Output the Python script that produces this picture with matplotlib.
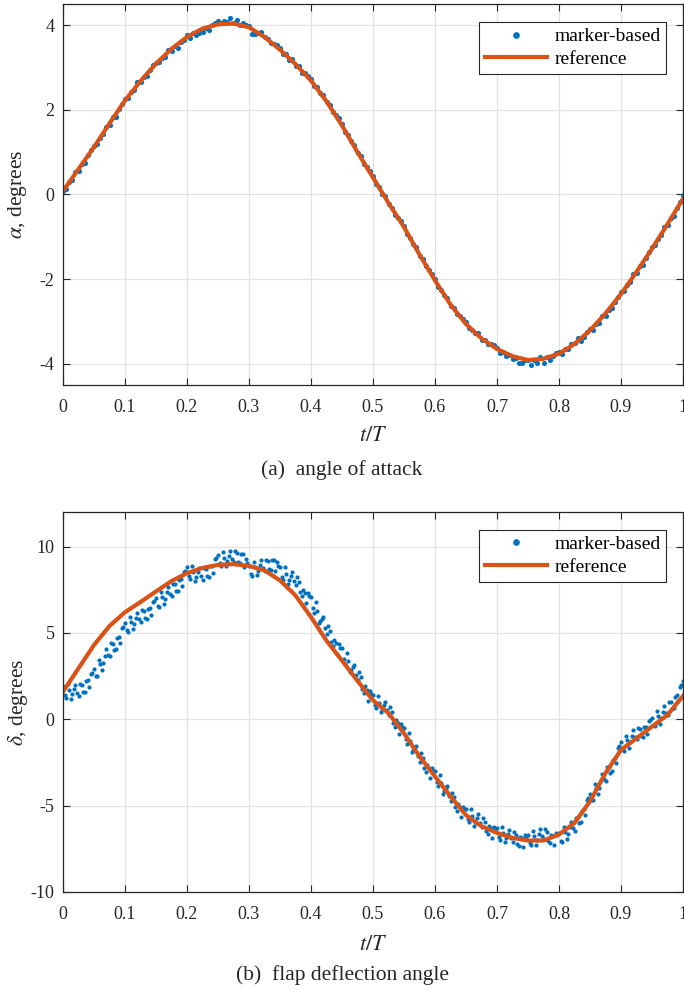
import numpy as np
import matplotlib
matplotlib.use("Agg")
import matplotlib.pyplot as plt
from matplotlib.lines import Line2D
from matplotlib.ticker import FuncFormatter

# Data
t_ref = np.linspace(0, 1, 41)          # reference sampled every 0.025 t/T
t_mark = np.linspace(0, 1, 201)        # marker samples every 0.005 t/T
t_mid = np.linspace(0.0025, 0.9975, 200)  # in-between marker samples (flap)

alpha_ref = [0.08, 0.60, 1.12, 1.68, 2.22, 2.68, 3.09, 3.44, 3.72, 3.92,
             4.02, 4.04, 3.95, 3.72, 3.42, 3.08, 2.69, 2.20, 1.63, 1.00,
             0.40, -0.20, -0.77, -1.42, -2.03, -2.60, -3.06, -3.40, -3.65, -3.82,
             -3.91, -3.88, -3.76, -3.53, -3.21, -2.81, -2.35, -1.83, -1.28, -0.70,
             -0.10]

alpha_mark = [0.09, 0.13, 0.29, 0.34, 0.54, 0.55, 0.73, 0.75, 0.94, 1.04,
              1.14, 1.20, 1.34, 1.44, 1.60, 1.63, 1.82, 1.83, 2.02, 2.13,
              2.26, 2.27, 2.42, 2.47, 2.65, 2.65, 2.78, 2.81, 2.93, 3.06,
              3.11, 3.14, 3.23, 3.25, 3.41, 3.39, 3.51, 3.47, 3.61, 3.66,
              3.76, 3.69, 3.81, 3.76, 3.81, 3.83, 3.94, 3.88, 4.00, 4.04,
              4.10, 4.04, 4.11, 4.07, 4.17, 4.05, 4.12, 4.01, 4.06, 4.01,
              3.97, 3.80, 3.79, 3.82, 3.83, 3.71, 3.68, 3.58, 3.56, 3.53,
              3.46, 3.32, 3.31, 3.18, 3.21, 3.04, 3.03, 2.87, 2.87, 2.79,
              2.74, 2.56, 2.53, 2.39, 2.35, 2.18, 2.12, 1.95, 1.88, 1.80,
              1.67, 1.48, 1.40, 1.26, 1.18, 0.99, 0.90, 0.72, 0.64, 0.56,
              0.44, 0.24, 0.18, 0.01, -0.03, -0.23, -0.31, -0.48, -0.56, -0.63,
              -0.74, -0.94, -1.02, -1.16, -1.25, -1.45, -1.53, -1.70, -1.79, -1.87,
              -1.99, -2.18, -2.25, -2.38, -2.44, -2.63, -2.68, -2.83, -2.87, -2.93,
              -3.02, -3.16, -3.19, -3.27, -3.28, -3.43, -3.44, -3.52, -3.54, -3.55,
              -3.62, -3.74, -3.73, -3.81, -3.78, -3.89, -3.86, -3.97, -3.97, -3.91,
              -3.91, -4.03, -3.91, -3.98, -3.84, -3.97, -3.85, -3.90, -3.81, -3.75,
              -3.72, -3.76, -3.66, -3.64, -3.53, -3.51, -3.40, -3.45, -3.36, -3.25,
              -3.17, -3.20, -3.06, -3.03, -2.87, -2.86, -2.72, -2.69, -2.55, -2.41,
              -2.31, -2.29, -2.13, -2.06, -1.88, -1.86, -1.69, -1.66, -1.49, -1.35,
              -1.24, -1.20, -1.04, -0.95, -0.77, -0.73, -0.56, -0.50, -0.32, -0.17,
              -0.01]

delta_ref = [1.60, 2.95, 4.30, 5.40, 6.20, 6.79, 7.40, 8.00, 8.46, 8.76,
             8.94, 8.98, 8.88, 8.62, 8.04, 7.17, 5.92, 4.55, 3.40, 2.22,
             1.10, 0.35, -0.81, -2.15, -3.31, -4.46, -5.55, -6.19, -6.58, -6.87,
             -7.02, -7.02, -6.67, -6.00, -4.75, -3.12, -1.77, -1.10, -0.42, 0.25,
             1.35]

delta_mark = [1.90, 1.25, 1.70, 1.45, 2.00, 1.35, 2.00, 1.60, 2.25, 2.65,
              2.90, 2.51, 3.22, 3.23, 4.04, 3.65, 4.38, 4.06, 4.79, 5.27,
              5.60, 5.07, 5.64, 5.51, 6.18, 5.65, 6.26, 5.82, 6.43, 6.79,
              7.00, 6.49, 7.08, 6.97, 7.66, 7.15, 7.82, 7.44, 8.11, 8.53,
              8.80, 8.11, 8.52, 8.23, 8.74, 8.05, 8.68, 8.26, 8.89, 9.27,
              9.50, 8.88, 9.36, 9.14, 9.72, 9.10, 9.60, 9.05, 9.55, 9.30,
              8.90, 8.30, 8.80, 8.60, 9.20, 8.60, 9.15, 8.65, 9.25, 9.10,
              8.80, 8.05, 8.40, 8.05, 8.50, 7.75, 7.96, 7.12, 7.33, 7.29,
              7.10, 6.13, 6.26, 5.69, 5.92, 4.95, 5.12, 4.24, 4.41, 4.33,
              4.10, 3.19, 3.38, 2.87, 3.16, 2.25, 2.42, 1.54, 1.71, 1.63,
              1.40, 0.63, 0.96, 0.59, 1.02, 0.25, 0.44, -0.42, -0.23, -0.29,
              -0.50, -1.43, -1.26, -1.79, -1.52, -2.45, -2.22, -3.04, -2.81, -2.83,
              -3.00, -3.89, -3.68, -4.17, -3.86, -4.75, -4.50, -5.30, -5.05, -5.05,
              -5.20, -5.95, -5.60, -5.95, -5.50, -6.25, -5.92, -6.64, -6.31, -6.23,
              -6.30, -7.00, -6.60, -6.90, -6.40, -7.10, -6.68, -7.31, -6.89, -6.72,
              -6.70, -7.29, -6.78, -6.97, -6.36, -6.95, -6.54, -7.18, -6.77, -6.61,
              -6.60, -7.11, -6.52, -6.63, -5.94, -6.45, -5.68, -5.96, -5.19, -4.67,
              -4.30, -4.69, -3.98, -3.97, -3.16, -3.55, -2.76, -3.02, -2.23, -1.69,
              -1.30, -1.81, -1.22, -1.33, -0.64, -1.15, -0.56, -1.02, -0.43, -0.09,
              0.10, -0.41, 0.18, 0.07, 0.76, 0.25, 0.98, 0.66, 1.39, 1.87,
              2.20]

delta_mark_mid = [1.40, 2.05, 1.20, 1.75, 1.55, 2.05, 1.60, 2.20, 1.85, 2.70,
                  2.53, 3.44, 2.85, 3.66, 3.72, 4.39, 4.02, 4.70, 4.43, 5.36,
                  5.16, 5.93, 5.20, 5.87, 5.79, 6.33, 5.84, 6.40, 6.01, 6.82,
                  6.57, 7.36, 6.65, 7.34, 7.28, 7.86, 7.43, 8.05, 7.72, 8.59,
                  8.28, 8.89, 8.00, 8.51, 8.27, 8.74, 8.27, 8.85, 8.48, 9.31,
                  9.02, 9.70, 8.88, 9.46, 9.29, 9.73, 9.13, 9.58, 8.83, 9.03,
                  8.43, 9.13, 8.33, 8.93, 8.78, 9.25, 8.70, 9.23, 8.58, 8.88,
                  8.25, 8.80, 7.85, 8.30, 8.00, 8.23, 7.34, 7.50, 6.71, 7.12,
                  6.44, 6.77, 5.60, 5.83, 5.31, 5.41, 4.48, 4.60, 3.77, 4.14,
                  3.47, 3.86, 2.75, 3.04, 2.58, 2.71, 1.78, 1.90, 1.07, 1.44,
                  0.84, 1.37, 0.40, 0.83, 0.51, 0.72, -0.19, -0.05, -0.86, -0.47,
                  -1.14, -0.77, -1.90, -1.63, -2.11, -1.96, -2.83, -2.65, -3.42, -2.99,
                  -3.62, -3.21, -4.30, -3.99, -4.43, -4.25, -5.10, -4.90, -5.65, -5.20,
                  -5.75, -5.20, -6.15, -5.70, -6.00, -5.71, -6.48, -6.20, -6.87, -6.34,
                  -6.83, -6.23, -7.13, -6.63, -6.88, -6.52, -7.20, -6.83, -7.41, -6.79,
                  -7.17, -6.46, -7.25, -6.64, -6.78, -6.37, -7.06, -6.70, -7.29, -6.68,
                  -7.03, -6.24, -6.95, -6.26, -6.32, -5.69, -6.02, -5.30, -5.53, -4.56,
                  -4.67, -3.76, -4.35, -3.54, -3.48, -2.78, -3.09, -2.35, -2.56, -1.57,
                  -1.73, -0.94, -1.65, -0.96, -1.02, -0.48, -0.99, -0.45, -0.86, -0.07,
                  -0.33, 0.46, -0.25, 0.44, 0.38, 0.99, 0.62, 1.30, 1.03, 1.96]

x_ticks = [0, 0.1, 0.2, 0.3, 0.4, 0.5, 0.6, 0.7, 0.8, 0.9, 1]

plt.rcParams['font.family'] = ['Liberation Serif', 'DejaVu Serif']
plt.rcParams['mathtext.fontset'] = 'stix'
plt.rcParams['axes.unicode_minus'] = False

BLUE = '#0072BD'
ORANGE = '#D95319'
DARK = '#262626'
FS_TICK = 13
FS_LAB = 15.5
FS_LEG = 14
FS_CAP = 15.5

fig = plt.figure(figsize=(6.84, 9.93), dpi=100)
W, H = 684, 993


def make_axes(top, bottom):
    left, right = 63, 683
    return fig.add_axes([left / W, 1 - bottom / H, (right - left) / W, (bottom - top) / H])


def style(ax, ylim, yticks, ylabel):
    ax.set_xlim(0, 1)
    ax.set_ylim(*ylim)
    ax.set_xticks(x_ticks)
    ax.set_yticks(yticks)
    ax.xaxis.set_major_formatter(FuncFormatter(lambda v, p: f"{v:g}"))
    ax.yaxis.set_major_formatter(FuncFormatter(lambda v, p: f"{v:g}"))
    ax.grid(True, color='#e3e3e3', lw=0.9)
    ax.set_axisbelow(True)
    ax.tick_params(direction='in', top=True, right=True, length=5, width=0.8,
                   color=DARK, labelsize=FS_TICK, labelcolor=DARK)
    ax.tick_params(axis='x', pad=10)
    ax.tick_params(axis='y', pad=6)
    for s in ax.spines.values():
        s.set_color(DARK)
        s.set_linewidth(0.9)
    ax.set_xlabel('$t/T$', fontsize=FS_LAB + 0.5, color=DARK)
    ax.xaxis.label.set_va('center')
    ax.set_ylabel(ylabel, fontsize=FS_LAB, color=DARK)
    ax.yaxis.label.set_va('center')
    handles = [Line2D([], [], marker='o', ls='', ms=4.8, mew=0, color=BLUE),
               Line2D([], [], color=ORANGE, lw=3.0)]
    leg = ax.legend(handles, ['marker-based', 'reference'], loc='upper right',
                    bbox_to_anchor=(0.973, 0.953), fontsize=FS_LEG, frameon=True,
                    fancybox=False, edgecolor=DARK, framealpha=1, borderpad=0.3,
                    handlelength=3.2, handletextpad=0.35, labelspacing=0.25,
                    borderaxespad=0)
    leg.get_frame().set_linewidth(0.8)


# (a) angle of attack
ax1 = make_axes(4, 385)
ax1.plot(t_mark, alpha_mark, 'o', color=BLUE, ms=3.7, mew=0)
ax1.plot(t_ref, alpha_ref, '-', color=ORANGE, lw=3.0)
style(ax1, (-4.5, 4.5), [-4, -2, 0, 2, 4], r'$\alpha$, degrees')
ax1.xaxis.set_label_coords(0.5, -(437 - 385) / 381)
ax1.yaxis.set_label_coords(-(63 - 18) / 620, 0.5)
fig.text(0.5, 1 - 470 / H, '(a)  angle of attack', ha='center', va='center',
         fontsize=FS_CAP, color=DARK)

# (b) flap deflection angle
ax2 = make_axes(512, 892)
ax2.plot(t_mark, delta_mark, 'o', color=BLUE, ms=3.0, mew=0)
ax2.plot(t_mid, delta_mark_mid, 'o', color=BLUE, ms=3.0, mew=0)
ax2.plot(t_ref, delta_ref, '-', color=ORANGE, lw=3.0)
style(ax2, (-10, 12), [-10, -5, 0, 5, 10], r'$\delta$, degrees')
ax2.xaxis.set_label_coords(0.5, -(945 - 892) / 380)
ax2.yaxis.set_label_coords(-(63 - 18) / 620, 0.5)
fig.text(0.5, 1 - 975 / H, '(b)  flap deflection angle', ha='center', va='center',
         fontsize=FS_CAP, color=DARK)

fig.savefig('out.png', dpi=100)
